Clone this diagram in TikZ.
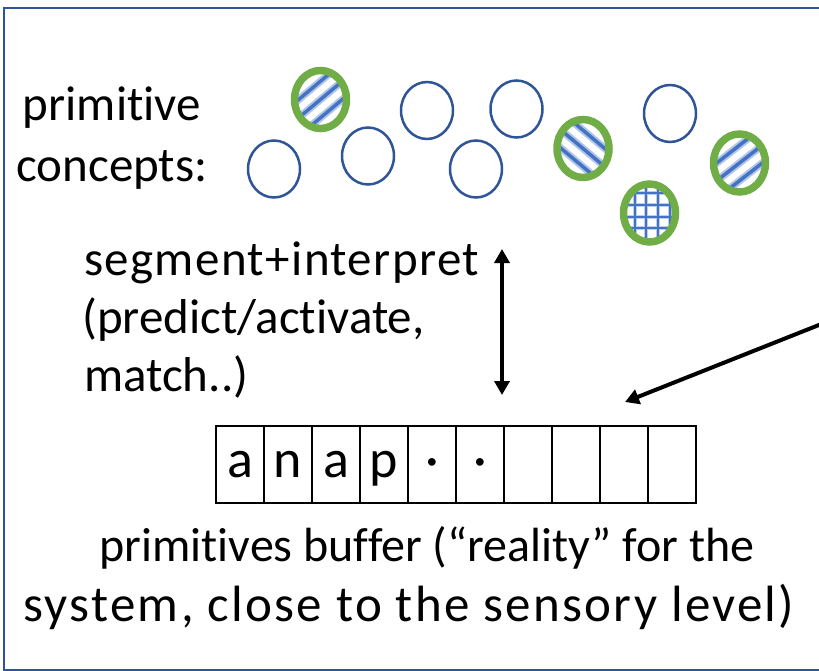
\documentclass[tikz,border=0pt]{standalone}
\usepackage{fontspec}
\setmainfont{Carlito}[Ligatures=NoCommon]
\usetikzlibrary{shapes.geometric,arrows.meta}

\definecolor{frameblue}{HTML}{2F5597}
\definecolor{conceptblue}{HTML}{2F5597}
\definecolor{activegreen}{HTML}{70AD47}
\definecolor{hatchblue}{HTML}{4472C4}

\tikzset{
  x=1pt, y=-1pt,
  every node/.style={font=\fontsize{49}{58}\selectfont, inner sep=0pt},
  concept/.style={ellipse, draw=conceptblue, line width=2.5pt,
    minimum width=52pt, minimum height=57pt},
  active/.style={ellipse, draw=activegreen, line width=7.5pt,
    minimum width=52pt, minimum height=58pt},
  % diagonal stripes clipped to the circle, #1 = stripe direction
  striped/.style={path picture={
    \pgfmathsetmacro\stripenormal{#1+90}
    \foreach \o in {-56,-42,-28,-14,0,14,28,42,56}{
      \draw[hatchblue!40, line width=7.5pt]
        ([shift={(\stripenormal:\o)}]path picture bounding box.center)
        +(#1:-60) -- +(#1:60);
      \draw[hatchblue, line width=3.5pt]
        ([shift={(\stripenormal:\o)}]path picture bounding box.center)
        +(#1:-60) -- +(#1:60);
    }}},
  % square grid clipped to the circle
  gridded/.style={path picture={
    \begin{scope}[shift={(path picture bounding box.center)}]
      \foreach \o in {-50.4,-38.6,-26.8,-15,-3.2,8.6,20.4,32.2,44}{
        \draw[hatchblue!35, line width=4pt] (\o,-60) -- (\o,60);
      }
      \foreach \o in {-55.4,-43.6,-31.8,-20,-8.2,3.6,15.4,27.2,39}{
        \draw[hatchblue!35, line width=4pt] (-60,\o) -- (60,\o);
      }
      \foreach \o in {-50.4,-38.6,-26.8,-15,-3.2,8.6,20.4,32.2,44}{
        \draw[hatchblue, line width=2pt] (\o,-60) -- (\o,60);
      }
      \foreach \o in {-55.4,-43.6,-31.8,-20,-8.2,3.6,15.4,27.2,39}{
        \draw[hatchblue, line width=2pt] (-60,\o) -- (60,\o);
      }
    \end{scope}}},
  cell/.style={rectangle, draw=black, line width=2pt,
    minimum width=48pt, minimum height=77pt,
    text height=25pt, text depth=0pt, font=\fontsize{54}{60}\selectfont},
  arrowline/.style={draw=black, line width=4pt,
    arrows={-Triangle[width=15pt,length=14pt]}},
  label/.style={anchor=base}
}

\begin{document}
\begin{tikzpicture}
  \useasboundingbox (0,0) rectangle (819,671);
  \clip (0,0) rectangle (819,671);

  % outer frame (continues past the right edge)
  \draw[frameblue, line width=2.5pt] (4,8) rectangle (900,670);

  % primitive concepts
  \node[concept] (k1) at (274,169) {};
  \node[concept] (k2) at (368,156) {};
  \node[concept] (k3) at (427,110.5) {};
  \node[concept] (k4) at (476,169) {};
  \node[concept] (k5) at (516.5,109) {};
  \node[concept] (k6) at (670,113.5) {};
  \node[active, striped=-40] (a1) at (320.5,99.5) {};
  \node[active, striped=40]  (a2) at (583,148.5) {};
  \node[active, gridded]     (a3) at (649.5,213) {};
  \node[active, striped=-38] (a4) at (739.5,163) {};

  % left-hand captions
  \node[label] (t1) at (112,121) {primitive};
  \node[label] (t2) at (112,182) {concepts:};
  \node[label, anchor=base west] (s1) at (84,275)
    {\addfontfeature{LetterSpace=2.8}segment+interpret};
  \node[label, anchor=base west] (s2) at (82,333) {(predict/activate,};
  \node[label, anchor=base west] (s3) at (84,391) {match..)};

  % primitives buffer
  \node[cell] (c1)  at (240,464.5) {a};
  \node[cell] (c2)  at (288,464.5) {n};
  \node[cell] (c3)  at (336,464.5) {a};
  \node[cell] (c4)  at (384,464.5) {p};
  \node[cell] (c5)  at (432,464.5) {·};
  \node[cell] (c6)  at (480,464.5) {·};
  \node[cell] (c7)  at (528,464.5) {};
  \node[cell] (c8)  at (576,464.5) {};
  \node[cell] (c9)  at (624,464.5) {};
  \node[cell] (c10) at (672,464.5) {};

  \node[label, font=\fontsize{48}{58}\selectfont] (b1) at (427,561)
    {primitives buffer (“reality” for the};
  \node[label, font=\fontsize{51}{58}\selectfont] (b2) at (409,621)
    {\addfontfeature{LetterSpace=4.5}system, close to the sensory level)};

  % segment/interpret link between concepts and buffer
  \coordinate (up)   at (502,249);
  \coordinate (down) at (502,395);
  \draw[arrowline, arrows={Triangle[width=15pt,length=14pt]-Triangle[width=15pt,length=14pt]}] (up) -- (down);

  % input arriving from the right
  \coordinate (src)  at (860,308.7);
  \coordinate (dest) at (625,402);
  \draw[arrowline] (src) -- (dest);
\end{tikzpicture}
\end{document}
